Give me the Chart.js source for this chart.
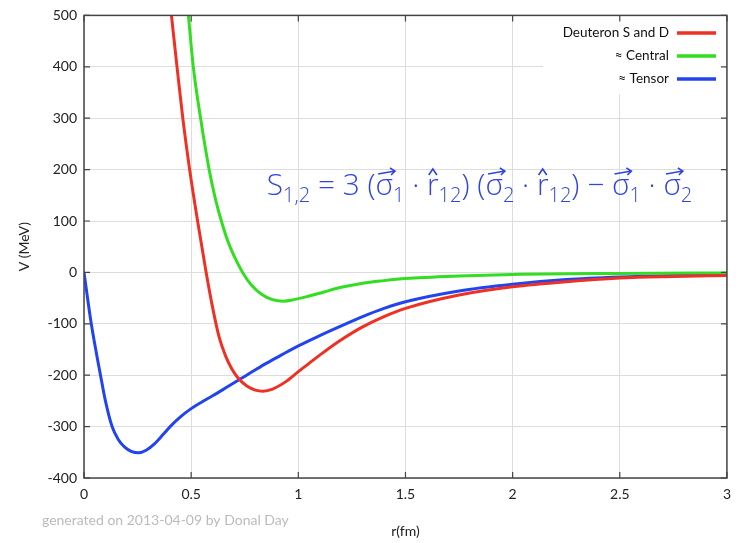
<!DOCTYPE html>
<html>
<head>
<meta charset="utf-8">
<script src="https://cdn.jsdelivr.net/npm/chart.js@4"></script>
<style>
  html, body { margin: 0; padding: 0; background: #fff; }
  #wrap { width: 739px; height: 543px; }
</style>
</head>
<body>
<div id="wrap"><canvas id="potChart" width="739" height="543"></canvas></div>
<script>
// values (r in fm, V in MeV)
var rRed = [0.40, 0.408, 0.434, 0.461, 0.493, 0.53, 0.57, 0.60, 0.63, 0.66, 0.69, 0.72, 0.76, 0.80, 0.835, 0.88, 0.94, 1.0, 1.05, 1.1, 1.19, 1.3, 1.4, 1.5, 1.75, 2.0, 2.25, 2.5, 2.75, 3.0];
var vRed = [530, 500, 400, 300, 200, 100, 0, -68, -125, -162, -188, -206, -221, -229, -231, -227, -213, -193, -177, -161, -134, -106, -86, -70, -44, -28, -18, -11, -8, -6];

var rGreen = [0.48, 0.487, 0.51, 0.544, 0.584, 0.612, 0.641, 0.67, 0.70, 0.74, 0.78, 0.83, 0.88, 0.93, 0.98, 1.05, 1.12, 1.2, 1.3, 1.4, 1.5, 1.75, 2.0, 2.5, 3.0];
var vGreen = [530, 500, 400, 300, 200, 145, 100, 62, 32, 0, -24, -43, -53, -56, -53, -46, -38, -29, -21, -16, -12, -7, -4, -2, -1];

var rBlue = [0, 0.034, 0.077, 0.10, 0.131, 0.16, 0.19, 0.22, 0.255, 0.29, 0.33, 0.37, 0.402, 0.45, 0.5, 0.55, 0.6, 0.66, 0.727, 0.79, 0.85, 0.92, 1.0, 1.1, 1.19, 1.3, 1.4, 1.5, 1.75, 2.0, 2.25, 2.5, 2.75, 3.0];
var vBlue = [0, -100, -200, -250, -300, -325, -340, -348, -351, -346, -333, -315, -300, -281, -265, -252, -240, -225, -208, -192, -177, -161, -143, -123, -106, -86, -70, -57, -36, -23, -14, -9, -6, -4];

var seriesNames = ['Deuteron S and D', '\u2248 Central', '\u2248 Tensor'];
var seriesColors = ['#ee3124', '#33dd22', '#2244ee'];

var xTicks = [0, 0.5, 1, 1.5, 2, 2.5, 3];
var xTickLabels = ['0', '0.5', '1', '1.5', '2', '2.5', '3'];
var yTicks = [-400, -300, -200, -100, 0, 100, 200, 300, 400, 500];

function pts(rs, vs) {
    return rs.map(function (r, i) { return { x: r, y: vs[i] }; });
}

var tickFont = { family: 'Lato, "DejaVu Sans", sans-serif', size: 14 };

// frame with inward ticks, legend, note and formula
var extras = {
    id: 'extras',
    beforeDatasetsDraw: function (chart) {
        var c = chart.ctx, a = chart.chartArea;
        c.save();
        // legend box
        c.fillStyle = '#fff';
        c.fillRect(543, a.top + 1, a.right - 544, 78);
        c.font = '13.5px Lato, "DejaVu Sans", sans-serif';
        c.textAlign = 'right';
        c.textBaseline = 'middle';
        for (var i = 0; i < seriesNames.length; i++) {
            var yy = 33 + i * 23;
            c.fillStyle = '#111';
            c.fillText(seriesNames[i], 669, yy);
            c.strokeStyle = seriesColors[i];
            c.lineWidth = 3.5;
            c.beginPath();
            c.moveTo(677, yy);
            c.lineTo(716, yy);
            c.stroke();
        }
        c.restore();
    },
    afterDraw: function (chart) {
        var c = chart.ctx, a = chart.chartArea;
        var xs = chart.scales.x, ys = chart.scales.y;
        c.save();
        c.strokeStyle = '#444';
        c.lineWidth = 1.5;
        c.strokeRect(a.left, a.top, a.right - a.left, a.bottom - a.top);
        c.lineWidth = 1.2;
        c.beginPath();
        yTicks.forEach(function (v) {
            var p = ys.getPixelForValue(v);
            c.moveTo(a.left, p); c.lineTo(a.left + 6, p);
            c.moveTo(a.right, p); c.lineTo(a.right - 6, p);
        });
        xTicks.forEach(function (v) {
            var p = xs.getPixelForValue(v);
            c.moveTo(p, a.bottom); c.lineTo(p, a.bottom - 6);
            c.moveTo(p, a.top); c.lineTo(p, a.top + 6);
        });
        c.stroke();

        // note under the axis
        c.font = '14px Lato, "DejaVu Sans", sans-serif';
        c.fillStyle = '#bbbbbb';
        c.textAlign = 'left';
        c.textBaseline = 'middle';
        c.fillText('generated on 2013-04-09 by Donal Day', 42, 520);

        drawFormula(c, xs.getPixelForValue(0.853), ys.getPixelForValue(150));
        c.restore();
    }
};

function drawFormula(c, x0, base) {
    var toks = [
        ['S', 'm'], ['1,2', 's'], [' = 3 (', 'm'], ['\u03c3', 'v'], ['1', 's'], [' \u00b7 ', 'm'],
        ['r', 'h'], ['12', 's'], [') (', 'm'], ['\u03c3', 'v'], ['2', 's'], [' \u00b7 ', 'm'],
        ['r', 'h'], ['12', 's'], [') \u2212 ', 'm'], ['\u03c3', 'v'], ['1', 's'], [' \u00b7 ', 'm'],
        ['\u03c3', 'v'], ['2', 's']
    ];
    var fam = '"Open Sans", Lato, sans-serif';
    function fontFor(kind, sz) {
        return (kind === 's' ? '300 ' + Math.round(sz * 0.68) : '300 ' + sz) + 'px ' + fam;
    }
    // fit to the width seen in the picture
    var total = 0, sz = 30;
    toks.forEach(function (t) { c.font = fontFor(t[1], sz); total += c.measureText(t[0]).width; });
    sz = sz * 425 / total;
    var x = x0;
    c.fillStyle = '#2f45dd';
    c.strokeStyle = '#2f45dd';
    c.textAlign = 'left';
    c.textBaseline = 'alphabetic';
    c.lineWidth = 1.6;
    toks.forEach(function (t) {
        c.font = fontFor(t[1], sz);
        var w = c.measureText(t[0]).width;
        var y = t[1] === 's' ? base + sz * 0.22 : base;
        c.fillText(t[0], x, y);
        if (t[1] === 'v') {
            var ay = base - sz * 0.78;
            c.beginPath();
            c.moveTo(x + w * 0.15, ay + 2);
            c.lineTo(x + w + 2, ay - 1);
            c.moveTo(x + w - 3, ay - 4);
            c.lineTo(x + w + 2, ay - 1);
            c.lineTo(x + w - 2, ay + 3);
            c.stroke();
        }
        if (t[1] === 'h') {
            var hy = base - sz * 0.78;
            c.beginPath();
            c.moveTo(x + w * 0.15, hy + 3);
            c.lineTo(x + w * 0.5, hy - 3);
            c.lineTo(x + w * 0.85, hy + 3);
            c.stroke();
        }
        x += w;
    });
}

var ctx = document.getElementById('potChart').getContext('2d');
var myChart = new Chart(ctx, {
    type: 'line',
    data: {
        datasets: [
            { label: seriesNames[0], data: pts(rRed, vRed), borderColor: seriesColors[0] },
            { label: seriesNames[1], data: pts(rGreen, vGreen), borderColor: seriesColors[1] },
            { label: seriesNames[2], data: pts(rBlue, vBlue), borderColor: seriesColors[2] }
        ]
    },
    options: {
        responsive: false,
        animation: false,
        layout: { padding: { top: 14, right: 8, left: 0, bottom: 0 } },
        elements: {
            line: { borderWidth: 3, cubicInterpolationMode: 'monotone', fill: false },
            point: { radius: 0 }
        },
        plugins: { legend: { display: false }, tooltip: { enabled: false } },
        scales: {
            x: {
                type: 'linear', min: 0, max: 3,
                afterBuildTicks: function (s) { s.ticks = xTicks.map(function (v) { return { value: v }; }); },
                afterFit: function (s) { s.height = 65; },
                ticks: {
                    font: tickFont, color: '#222', padding: 8, maxRotation: 0,
                    callback: function (v) { var i = xTicks.indexOf(v); return i < 0 ? '' : xTickLabels[i]; }
                },
                grid: { color: '#dddddd', drawTicks: false },
                border: { display: false },
                title: { display: true, text: 'r(fm)', font: tickFont, color: '#222', padding: { top: 0, bottom: 3 } }
            },
            y: {
                min: -400, max: 500,
                afterBuildTicks: function (s) { s.ticks = yTicks.map(function (v) { return { value: v }; }); },
                afterFit: function (s) { s.width = 84; },
                ticks: { font: tickFont, color: '#222', padding: 7 },
                grid: { color: '#dddddd', drawTicks: false },
                border: { display: false },
                title: { display: true, text: 'V (MeV)', font: tickFont, color: '#222', padding: { top: 16, bottom: 0 } }
            }
        }
    },
    plugins: [extras]
});
</script>
</body>
</html>
